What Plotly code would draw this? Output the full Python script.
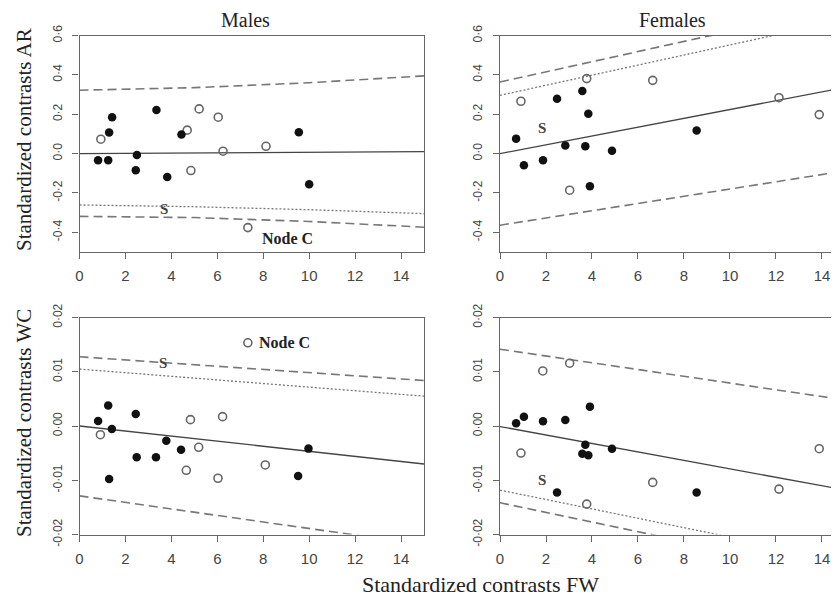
import plotly.graph_objects as go

# ---------------- data ----------------
fw_ticks = [0, 2, 4, 6, 8, 10, 12, 14]
ar_ticks = [-0.4, -0.2, 0.0, 0.2, 0.4, 0.6]
ar_ticklabels = ["-0·4", "-0·2", "0·0", "0·2", "0·4", "0·6"]
wc_ticks = [-0.02, -0.01, 0.0, 0.01, 0.02]
wc_ticklabels = ["-0·02", "-0·01", "0·00", "0·01", "0·02"]

# Males, AR
m_ar_filled_x = [0.81, 1.25, 1.29, 1.42, 2.45, 2.50, 3.35, 3.82, 4.44, 9.55, 10.0]
m_ar_filled_y = [-0.034, -0.034, 0.107, 0.185, -0.085, -0.007, 0.222, -0.119, 0.097, 0.108, -0.156]
m_ar_open_x = [0.93, 4.69, 4.85, 5.21, 6.04, 6.25, 8.12, 7.33]
m_ar_open_y = [0.073, 0.119, -0.086, 0.227, 0.185, 0.012, 0.037, -0.376]
m_ar_line_x = [0, 5, 10, 15]
m_ar_fit = [0.0, 0.003, 0.007, 0.01]
m_ar_upper = [0.322, 0.335, 0.360, 0.395]
m_ar_lower = [-0.319, -0.325, -0.345, -0.374]
m_ar_dotted = [-0.261, -0.270, -0.285, -0.305]

# Females, AR
f_ar_filled_x = [0.70, 1.04, 1.87, 2.48, 2.84, 3.58, 3.71, 3.84, 3.91, 4.87, 8.55]
f_ar_filled_y = [0.076, -0.059, -0.034, 0.279, 0.041, 0.318, 0.037, 0.203, -0.166, 0.014, 0.117]
f_ar_open_x = [0.91, 3.03, 3.77, 6.64, 12.13, 13.88]
f_ar_open_y = [0.266, -0.186, 0.381, 0.372, 0.284, 0.198]
f_ar_line_x = [0, 15]
f_ar_fit = [0.0, 0.336]
f_ar_upper = [0.364, 0.750]
f_ar_lower = [-0.364, -0.088]
f_ar_dotted = [0.296, 0.680]

# Males, WC
m_wc_filled_x = [0.81, 1.25, 1.41, 1.29, 2.45, 2.49, 3.33, 3.78, 4.42, 9.52, 9.97]
m_wc_filled_y = [0.00092, 0.0038, -0.00055, -0.00975, 0.0022, -0.00577, -0.00577, -0.0027, -0.00436, -0.0092, -0.00417]
m_wc_open_x = [0.91, 4.83, 4.65, 5.19, 6.03, 6.23, 8.09, 7.33]
m_wc_open_y = [-0.0016, 0.00117, -0.00816, -0.00393, -0.00963, 0.00172, -0.00718, 0.01534]
m_wc_line_x = [0, 15]
m_wc_fit = [0.0, -0.0070]
m_wc_upper = [0.01276, 0.00838]
m_wc_lower = [-0.01288, -0.0219]
m_wc_dotted = [0.01049, 0.0055]

# Females, WC
f_wc_filled_x = [0.70, 1.04, 1.87, 2.84, 2.48, 3.71, 3.58, 3.84, 3.91, 4.87, 8.55]
f_wc_filled_y = [0.00049, 0.00172, 0.00086, 0.00111, -0.01225, -0.00345, -0.0051, -0.0054, 0.00357, -0.00418, -0.01225]
f_wc_open_x = [0.91, 1.86, 3.03, 3.77, 6.64, 12.13, 13.88]
f_wc_open_y = [-0.00498, 0.01015, 0.01157, -0.0144, -0.0104, -0.01163, -0.00418]
f_wc_line_x = [0, 15]
f_wc_fit = [-0.0001, -0.0118]
f_wc_upper = [0.01415, 0.0048]
f_wc_lower = [-0.01415, -0.0275]
f_wc_dotted = [-0.01182, -0.0248]

# label positions
s_labels = {"m_ar": (3.67, -0.28), "f_ar": (1.84, 0.132), "m_wc": (3.62, 0.0117), "f_wc": (1.84, -0.0100)}
node_c_ar = (7.85, -0.432)
node_c_wc = (7.75, 0.01534)

# ---------------- figure ----------------
# page body has an 8px margin, so the figure is drawn 8px in from the window corner
OFF = 8
W, H = 839 - OFF, 597 - OFF
fig = go.Figure()

def fx_(v):
    return (v - OFF) / W

def fy_(v):
    return 1 - (v - OFF) / H

col_dom = {
    "L": [fx_(79.5), fx_(424)],
    "R": [fx_(500), 1.0],
}
row_dom = {
    "T": [fy_(252), fy_(35.5)],
    "B": [fy_(534.5), fy_(317.5)],
}

panels = [
    ("m_ar", "", "L", "T", 15, [-0.5, 0.6], ar_ticks, ar_ticklabels,
     m_ar_filled_x, m_ar_filled_y, m_ar_open_x, m_ar_open_y, m_ar_line_x, m_ar_fit, m_ar_upper, m_ar_lower, m_ar_dotted),
    ("f_ar", "2", "R", "T", 14.74, [-0.5, 0.6], ar_ticks, ar_ticklabels,
     f_ar_filled_x, f_ar_filled_y, f_ar_open_x, f_ar_open_y, f_ar_line_x, f_ar_fit, f_ar_upper, f_ar_lower, f_ar_dotted),
    ("m_wc", "3", "L", "B", 15, [-0.02, 0.02], wc_ticks, wc_ticklabels,
     m_wc_filled_x, m_wc_filled_y, m_wc_open_x, m_wc_open_y, m_wc_line_x, m_wc_fit, m_wc_upper, m_wc_lower, m_wc_dotted),
    ("f_wc", "4", "R", "B", 14.74, [-0.02, 0.02], wc_ticks, wc_ticklabels,
     f_wc_filled_x, f_wc_filled_y, f_wc_open_x, f_wc_open_y, f_wc_line_x, f_wc_fit, f_wc_upper, f_wc_lower, f_wc_dotted),
]

axis_col = "#666666"
sans = "Liberation Sans, Arial, sans-serif"
serif = "Liberation Serif, Times New Roman, serif"

for (key, sfx, col, row, xmax, yr, yt, ytl, fx, fy, ox, oy, lx, fit, up, lo, dot) in panels:
    xa, ya = "x" + sfx, "y" + sfx
    common = dict(xaxis=xa, yaxis=ya, showlegend=False, hoverinfo="skip")
    fig.add_trace(go.Scatter(x=lx, y=up, mode="lines",
                             line=dict(color="#777777", width=1.6, dash="9px,5px"), **common))
    fig.add_trace(go.Scatter(x=lx, y=lo, mode="lines",
                             line=dict(color="#777777", width=1.6, dash="9px,5px"), **common))
    fig.add_trace(go.Scatter(x=lx, y=dot, mode="lines",
                             line=dict(color="#777777", width=1.3, dash="2px,2px"), **common))
    fig.add_trace(go.Scatter(x=lx, y=fit, mode="lines",
                             line=dict(color="#444444", width=1.3), **common))
    fig.add_trace(go.Scatter(x=ox, y=oy, mode="markers",
                             marker=dict(symbol="circle-open", size=8, color="#666666",
                                         line=dict(width=1.6, color="#666666")), **common))
    fig.add_trace(go.Scatter(x=fx, y=fy, mode="markers",
                             marker=dict(symbol="circle", size=8.5, color="#111111"), **common))

    right = col == "R"
    fig.layout["xaxis" + sfx] = dict(
        domain=col_dom[col], range=[0, xmax], anchor=ya, automargin=False,
        tickvals=fw_ticks, ticktext=[str(t) for t in fw_ticks],
        showline=True, linecolor=axis_col, linewidth=1.3, mirror=True,
        ticks="outside", ticklen=6, tickcolor=axis_col, tickwidth=1.2,
        ticklabelstandoff=4,
        showgrid=False, zeroline=False, tickfont=dict(family=sans, size=15, color="#444444"),
    )
    fig.layout["yaxis" + sfx] = dict(
        domain=row_dom[row], range=yr, anchor=xa, automargin=False,
        tickvals=yt, ticktext=ytl, tickangle=-90,
        showline=True, linecolor=axis_col, linewidth=1.3, mirror=(not right),
        ticks="outside", ticklen=6, tickcolor=axis_col, tickwidth=1.2,
        ticklabelstandoff=6,
        showgrid=False, zeroline=False,
        tickfont=dict(family=sans, size=12, color="#444444"),
    )

    sx, sy = s_labels[key]
    fig.add_annotation(x=sx, y=sy, xref=xa, yref=ya, text="<b>S</b>", showarrow=False,
                       xanchor="center", yanchor="middle",
                       font=dict(family=serif, size=15, color="#444444"))

fig.add_annotation(x=node_c_ar[0], y=node_c_ar[1], xref="x", yref="y", text="<b>Node C</b>",
                   showarrow=False, xanchor="left", yanchor="middle",
                   font=dict(family=serif, size=16, color="#222222"))
fig.add_annotation(x=node_c_wc[0], y=node_c_wc[1], xref="x3", yref="y3", text="<b>Node C</b>",
                   showarrow=False, xanchor="left", yanchor="middle",
                   font=dict(family=serif, size=16, color="#222222"))

def paper_text(x, y, text, size, angle=0, yanchor="middle"):
    fig.add_annotation(x=fx_(x), y=fy_(y), xref="paper", yref="paper", text=text,
                       textangle=angle, showarrow=False, xanchor="center", yanchor=yanchor,
                       borderpad=0, font=dict(family=serif, size=size, color="#222222"))

paper_text(246, 8, "Males", 20, yanchor="top")
paper_text(672, 8, "Females", 20, yanchor="top")
paper_text(24, 140, "Standardized contrasts AR", 21, -90)
paper_text(24, 423, "Standardized contrasts WC", 21, -90)
paper_text(480, 584, "Standardized contrasts FW", 22)

fig.update_layout(width=W, height=H, margin=dict(l=0, r=0, t=0, b=0, autoexpand=False),
                  paper_bgcolor="white", plot_bgcolor="white")

fig.write_html("out.html", config={"responsive": False})
